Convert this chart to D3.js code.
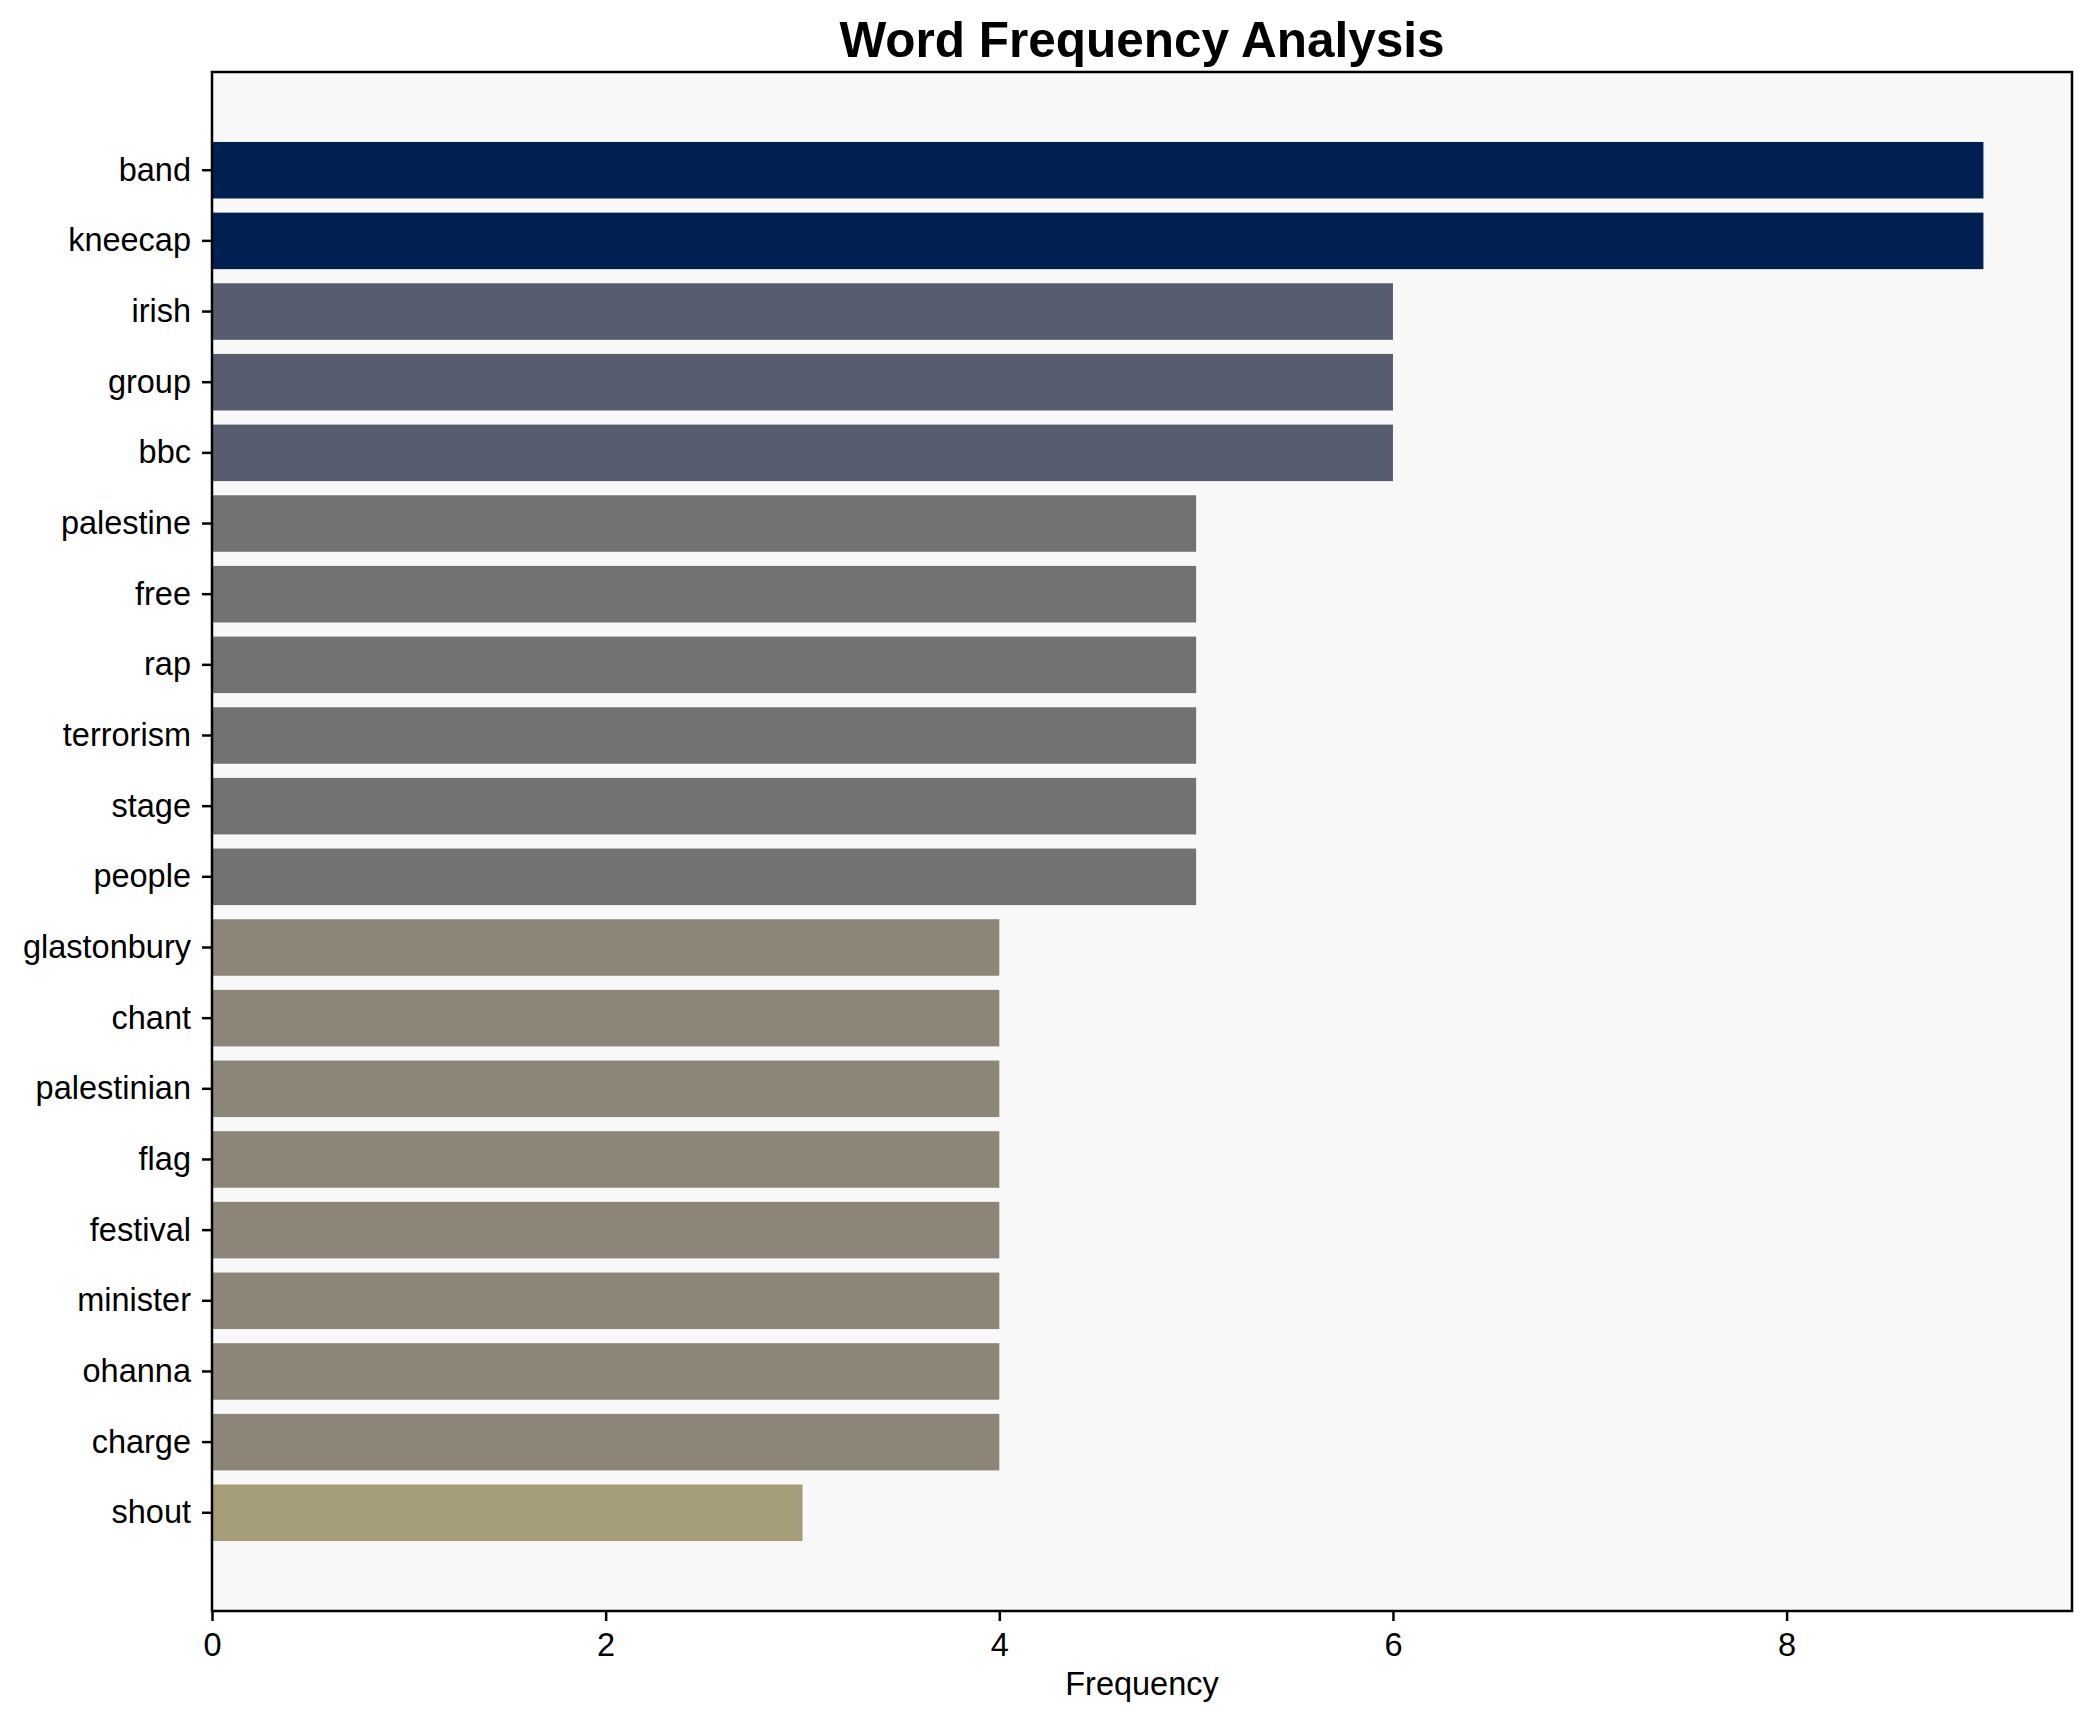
<!DOCTYPE html>
<html>
<head>
<meta charset="utf-8">
<script src="https://cdn.jsdelivr.net/npm/d3@7"></script>
<style>
  body { margin: 0; background: #fff; }
  text { font-family: "Liberation Sans", Arial, sans-serif; }
</style>
</head>
<body>
<div id="chart"></div>
<script>
const words = ["band", "kneecap", "irish", "group", "bbc", "palestine", "free", "rap",
  "terrorism", "stage", "people", "glastonbury", "chant", "palestinian", "flag",
  "festival", "minister", "ohanna", "charge", "shout"];
const counts = [9, 9, 6, 6, 6, 5, 5, 5, 5, 5, 5, 4, 4, 4, 4, 4, 4, 4, 4, 3];
const xTicks = [0, 2, 4, 6, 8];

const width = 2091;
const height = 1722;
const margin = {top: 72, right: 19, bottom: 111, left: 212};
const maxCount = d3.max(counts);

const x = d3.scaleLinear()
    .domain([0, maxCount * 1.05])
    .range([margin.left, width - margin.right]);

const y = d3.scaleBand()
    .domain(words)
    .range([margin.top, height - margin.bottom])
    .paddingInner(0.2)
    .paddingOuter(0.99);

const color = v => d3.interpolateCividis(1 - v / maxCount);

const svg = d3.select("#chart").append("svg")
    .attr("width", width)
    .attr("height", height);

svg.append("rect")
    .attr("x", margin.left)
    .attr("y", margin.top)
    .attr("width", width - margin.left - margin.right)
    .attr("height", height - margin.top - margin.bottom)
    .attr("fill", "#f8f8f8");

svg.append("g")
  .selectAll("rect")
  .data(words)
  .join("rect")
    .attr("x", x(0))
    .attr("y", d => y(d))
    .attr("width", (d, i) => x(counts[i]) - x(0))
    .attr("height", y.bandwidth())
    .attr("fill", (d, i) => color(counts[i]));

const xAxis = svg.append("g")
    .attr("transform", `translate(0,${height - margin.bottom})`)
    .call(d3.axisBottom(x).tickValues(xTicks).tickSize(10).tickPadding(12));

const yAxis = svg.append("g")
    .attr("transform", `translate(${margin.left},0)`)
    .call(d3.axisLeft(y).tickSize(10).tickPadding(11));

[xAxis, yAxis].forEach(g => {
  g.select(".domain").remove();
  g.selectAll("line").attr("stroke", "#000").attr("stroke-width", 2.5);
  g.selectAll("text")
      .attr("font-size", 32.5)
      .attr("fill", "#000")
      .style("font-family", "'Liberation Sans', Arial, sans-serif");
});

// frame
svg.append("rect")
    .attr("x", margin.left)
    .attr("y", margin.top)
    .attr("width", width - margin.left - margin.right)
    .attr("height", height - margin.top - margin.bottom)
    .attr("fill", "none")
    .attr("stroke", "#000")
    .attr("stroke-width", 2.5);

svg.append("text")
    .attr("x", (margin.left + width - margin.right) / 2)
    .attr("y", 1695)
    .attr("text-anchor", "middle")
    .attr("font-size", 32.5)
    .text("Frequency");

svg.append("text")
    .attr("x", (margin.left + width - margin.right) / 2)
    .attr("y", 57)
    .attr("text-anchor", "middle")
    .attr("font-size", 49.5)
    .attr("font-weight", "bold")
    .text("Word Frequency Analysis");
</script>
</body>
</html>
